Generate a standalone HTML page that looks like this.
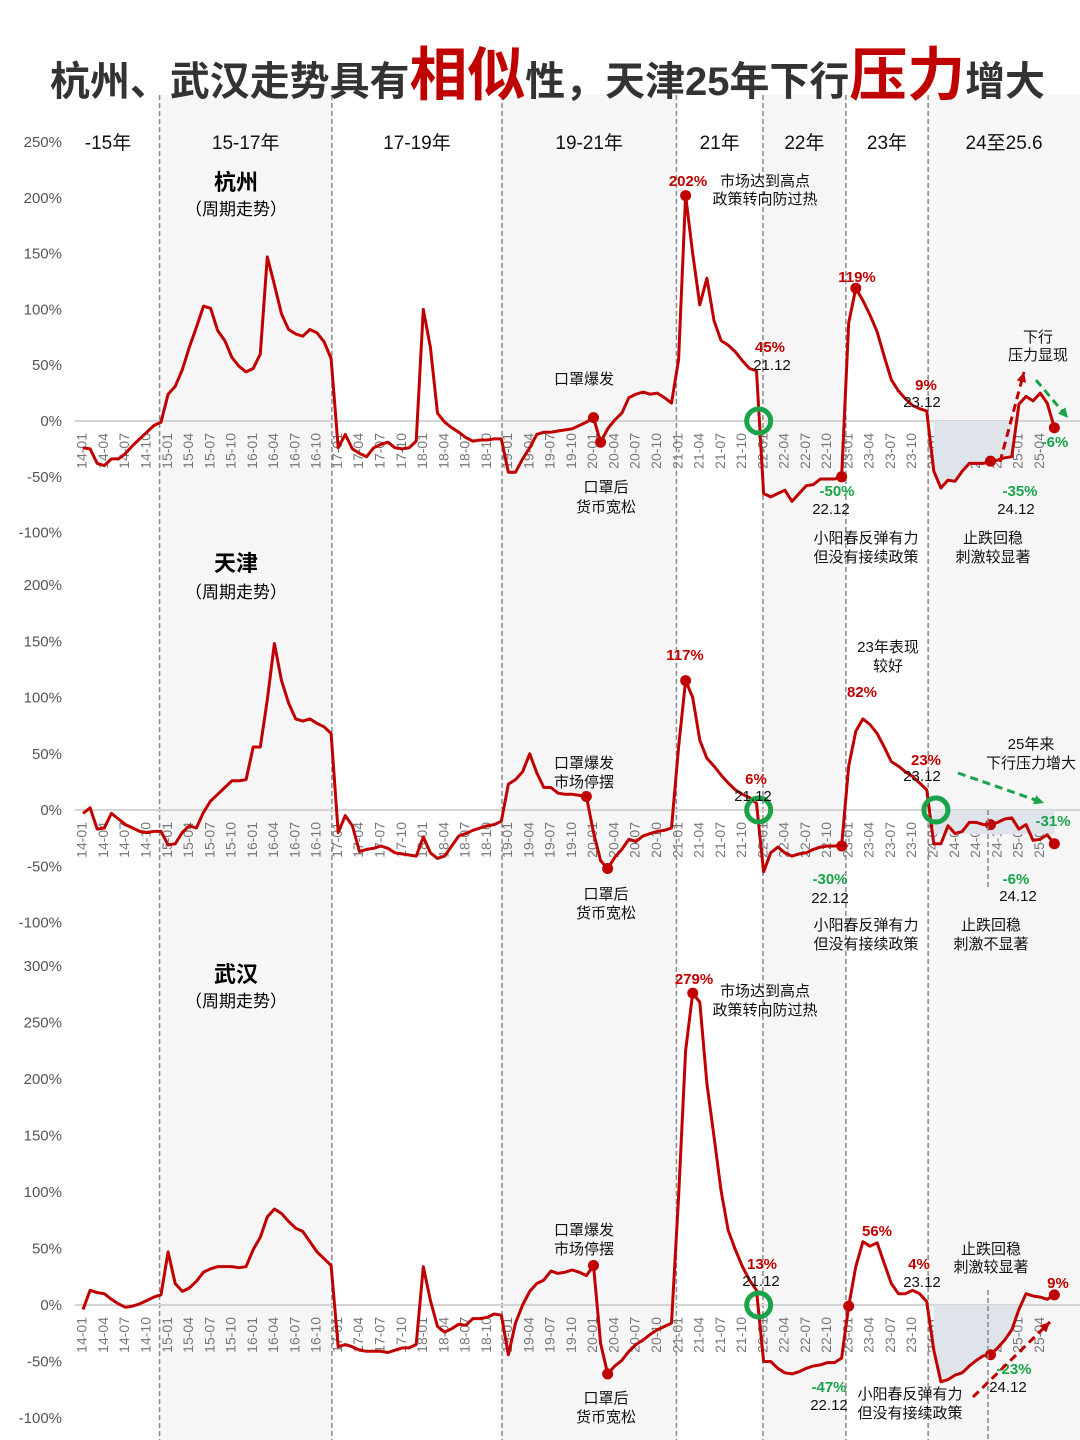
<!DOCTYPE html>
<html><head><meta charset="utf-8">
<style>
html,body{margin:0;padding:0;background:#fff;}
svg{display:block;font-family:"Liberation Sans","Noto Sans CJK SC",sans-serif;}
</style></head>
<body>
<svg id="chart" width="1080" height="1440" viewBox="0 0 1080 1440" xmlns="http://www.w3.org/2000/svg">
<g id="bands"></g>
<text x="50" y="95" font-size="40" font-weight="bold" fill="#333" textLength="995" lengthAdjust="spacingAndGlyphs">杭州、武汉走势具有<tspan font-size="58" fill="#c00000">相似</tspan>性，天津25年下行<tspan font-size="58" fill="#c00000">压力</tspan>增大</text>
<g id="periods" font-size="19" fill="#111" text-anchor="middle"></g>
<g id="plots"></g>
<g id="notes" font-size="15" text-anchor="middle" fill="#111"></g>
</svg>
<script>
const months = [];
for (let y = 14; y <= 25; y++) for (let mo = 1; mo <= 12; mo++) months.push(String(y) + '-' + String(mo).padStart(2, '0'));
months.length = 138;

const hzValues = [-24,-25,-38,-40,-34,-34,-29,-22,-16,-10,-4,-1,24,31,46,66,84,103,101,81,72,57,49,44,47,60,147,122,96,82,78,76,82,79,71,56,
-24,-12,-25,-29,-32,-24,-21,-19,-24,-25,-24,-18,100,66,7,-1,-6,-10,-15,-18,-17,-17,-16,-16,-46,-46,-34,-24,-12,-10,-10,-9,-8,-7,-4,-1,
3,-19,-7,1,7,21,24,26,24,25,21,16,55,202,150,104,128,90,72,68,62,54,47,45,-65,-68,-65,-62,-72,-65,-58,-57,-52,-52,-52,-50,
88,119,108,95,80,58,37,27,20,14,11,9,-45,-60,-53,-54,-45,-38,-38,-38,-36,-35,-33,-32,15,22,18,25,16,-6];

const tjValues = [-3,2,-17,-16,-3,-8,-13,-16,-19,-20,-19,-19,-31,-30,-20,-14,-16,-2,8,14,20,26,26,27,56,56,98,148,115,95,81,79,81,77,74,68,
-20,-5,-14,-37,-35,-34,-32,-34,-38,-39,-40,-41,-24,-38,-43,-41,-32,-23,-21,-18,-16,-14,-13,-10,23,27,34,50,33,20,20,15,14,14,13,12,
-20,-45,-52,-42,-35,-26,-28,-23,-21,-19,-18,-16,56,115,100,62,46,39,31,24,18,14,11,6,-55,-38,-33,-38,-41,-39,-38,-35,-33,-32,-32,-32,
39,70,81,76,68,56,43,39,34,30,24,18,-30,-30,-14,-21,-19,-11,-11,-13,-13,-11,-8,-7,-17,-13,-27,-26,-22,-30];

const whValues = [-4,13,11,10,5,1,-2,-1,1,4,7,9,47,19,12,15,21,29,32,34,34,34,33,34,49,60,78,85,81,74,68,65,56,47,41,35,
-37,-35,-37,-40,-41,-41,-41,-42,-40,-38,-38,-35,34,4,-19,-24,-21,-17,-18,-12,-12,-11,-8,-9,-44,-16,0,12,19,22,30,28,29,31,29,26,
35,-34,-61,-54,-49,-41,-35,-31,-26,-22,-19,-16,96,225,276,268,196,149,101,66,49,34,22,13,-50,-50,-56,-60,-61,-59,-56,-54,-53,-51,-51,-47,
-1,34,56,52,55,37,19,10,10,13,10,3,-40,-68,-66,-62,-60,-54,-49,-45,-44,-38,-31,-22,-4,10,8,7,5,9];

const hzTicks = [250,200,150,100,50,0,-50,-100];
const tjTicks = [200,150,100,50,0,-50,-100];
const whTicks = [300,250,200,150,100,50,0,-50,-100];
const hzDots = [72,73,85,109,107,128,137];
const tjDots = [71,74,85,107,128,137];
const whDots = [72,74,86,108,128,137];
const periodNames = ['-15年','15-17年','17-19年','19-21年','21年','22年','23年','24至25.6'];
const dividerMonths = [10.8,35.1,59.1,83.7,95.9,107.6,119.2];

const NS = 'http://www.w3.org/2000/svg';
function xScale(m){ return 83 + m * 7.09; }
function mk(tag, attrs, parent, text){
  const e = document.createElementNS(NS, tag);
  for (const k in attrs) e.setAttribute(k, attrs[k]);
  if (text !== undefined) e.textContent = text;
  parent.appendChild(e);
  return e;
}

// bands & dividers
const bands = document.getElementById('bands');
const bandEdges = [0].concat(dividerMonths.map(xScale)).concat([1080]);
[1,3,5,7].forEach(i => {
  const r = mk('rect', {x: bandEdges[i], y: 95, width: bandEdges[i+1]-bandEdges[i], height: 1345, fill: '#f6f6f6'}, bands);
  
  
});
dividerMonths.forEach(m => {
  const l = mk('line', {x1: xScale(m), x2: xScale(m), y1: 95, y2: 1440, stroke: '#888', 'stroke-width': 1.5, 'stroke-dasharray': '5,3'}, bands);
  
  
});
const periods = document.getElementById('periods');
periodNames.forEach((p, i) => {
  const cx = i === 0 ? 108 : (bandEdges[i] + bandEdges[i+1]) / 2;
  const t = mk('text', {x: cx, y: 149}, periods, p);
  
  
});

const plots = document.getElementById('plots');
function panel(name, vals, ticks, zero, k, dots){
  const y = v => zero - v * k;
  const g = mk('g', {}, plots);
  
  
  ticks.forEach(t => {
    const tx = mk('text', {x: 62, y: y(t) + 5, 'font-size': 15, fill: '#555', 'text-anchor': 'end'}, g, t + '%');
    
    
  });
  const zl = mk('line', {x1: 75, x2: 1080, y1: zero, y2: zero, stroke: '#d4d4d4', 'stroke-width': 2}, g);
  
  
  for (let m = 0; m < months.length; m += 3) {
    const xx = xScale(m), yy = zero + 12;
    const tl = mk('text', {x: xx, y: yy, 'font-size': 14, fill: '#777', 'text-anchor': 'end', 'dominant-baseline': 'middle', transform: 'rotate(-90 ' + xx + ' ' + yy + ')'}, g, months[m]);
    
    
  }
  return {g, y};
}
function areaPath(vals, y, a, b){
  let d = 'M' + xScale(a) + ',' + y(0);
  for (let m = a; m <= b; m++) d += ' L' + xScale(m) + ',' + y(vals[m]);
  d += ' L' + xScale(b) + ',' + y(0) + ' Z';
  return d;
}
function line(g, vals, y, name){
  let d = '';
  vals.forEach((v, m) => { d += (m ? ' L' : 'M') + xScale(m).toFixed(1) + ',' + y(v).toFixed(1); });
  const p = mk('path', {d, fill: 'none', stroke: '#c00000', 'stroke-width': 3, 'stroke-linejoin': 'round'}, g);
  
  
}
function dotsOf(g, vals, y, idx){
  idx.forEach(m => {
    const c = mk('circle', {cx: xScale(m), cy: y(vals[m]), r: 5.5, fill: '#c00000'}, g);
    
    
  });
}
function ring(g, m, y){
  const c = mk('circle', {cx: xScale(m), cy: y(0), r: 12, fill: 'none', stroke: '#1aa34a', 'stroke-width': 5}, g);
  
  
}

const hz = panel('hangzhou', hzValues, hzTicks, 421, 1.116, hzDots);
const a1 = mk('path', {d: areaPath(hzValues, hz.y, 120, 131), fill: '#dfe3ea'}, hz.g);


line(hz.g, hzValues, hz.y, 'hangzhou');
dotsOf(hz.g, hzValues, hz.y, hzDots);
ring(hz.g, 95.3, hz.y);

const tj = panel('tianjin', tjValues, tjTicks, 810, 1.125, tjDots);
const a2 = mk('path', {d: areaPath(tjValues, tj.y, 107.5, 120), fill: '#f9dede'}, tj.g);


const a3 = mk('rect', {x: xScale(120), y: 810, width: xScale(137) - xScale(120), height: 24, fill: '#dfe3ea'}, tj.g);


line(tj.g, tjValues, tj.y, 'tianjin');
dotsOf(tj.g, tjValues, tj.y, tjDots);
ring(tj.g, 95.3, tj.y);
ring(tj.g, 120.3, tj.y);

const wh = panel('wuhan', whValues, whTicks, 1305, 1.13, whDots);
const a4 = mk('path', {d: areaPath(whValues, wh.y, 120, 132), fill: '#dfe3ea'}, wh.g);


line(wh.g, whValues, wh.y, 'wuhan');
dotsOf(wh.g, whValues, wh.y, whDots);
ring(wh.g, 95.3, wh.y);

// small dashed markers at 24.12
[[810, 890], [1290, 1440]].forEach(r => {
  const l = mk('line', {x1: 988, x2: 988, y1: r[0], y2: r[1], stroke: '#888', 'stroke-width': 1.5, 'stroke-dasharray': '5,3'}, plots);
  
  
});

// notes: [text, x, y, color, bold, size]
const notes = [
 ['杭州',236,190,'#000',1,22],['（周期走势）',236,215,'#000',0,17],
 ['202%',688,186,'#c00000',1,15],['市场达到高点',765,186,'#111',0,15],['政策转向防过热',765,204,'#111',0,15],
 ['45%',770,352,'#c00000',1,15],['21.12',772,370,'#111',0,15],
 ['口罩爆发',584,384,'#111',0,15],['口罩后',606,492,'#111',0,15],['货币宽松',606,512,'#111',0,15],
 ['119%',857,282,'#c00000',1,15],['-50%',837,496,'#1aa34a',1,15],['22.12',831,514,'#111',0,15],
 ['9%',926,390,'#c00000',1,15],['23.12',922,407,'#111',0,15],
 ['小阳春反弹有力',866,543,'#111',0,15],['但没有接续政策',866,562,'#111',0,15],
 ['止跌回稳',993,543,'#111',0,15],['刺激较显著',993,562,'#111',0,15],
 ['-35%',1020,496,'#1aa34a',1,15],['24.12',1016,514,'#111',0,15],
 ['下行',1038,342,'#111',0,15],['压力显现',1038,360,'#111',0,15],['-6%',1055,447,'#1aa34a',1,15],
 ['天津',236,571,'#000',1,22],['（周期走势）',236,598,'#000',0,17],
 ['117%',685,660,'#c00000',1,15],['口罩爆发',584,768,'#111',0,15],['市场停摆',584,787,'#111',0,15],
 ['口罩后',606,899,'#111',0,15],['货币宽松',606,918,'#111',0,15],
 ['6%',756,784,'#c00000',1,15],['21.12',753,801,'#111',0,15],
 ['23年表现',888,652,'#111',0,15],['较好',888,671,'#111',0,15],['82%',862,697,'#c00000',1,15],
 ['23%',926,765,'#c00000',1,15],['23.12',922,781,'#111',0,15],
 ['25年来',1031,749,'#111',0,15],['下行压力增大',1031,768,'#111',0,15],['-31%',1053,826,'#1aa34a',1,15],
 ['-30%',830,884,'#1aa34a',1,15],['22.12',830,903,'#111',0,15],['-6%',1016,884,'#1aa34a',1,15],['24.12',1018,901,'#111',0,15],
 ['小阳春反弹有力',866,930,'#111',0,15],['但没有接续政策',866,949,'#111',0,15],
 ['止跌回稳',991,930,'#111',0,15],['刺激不显著',991,949,'#111',0,15],
 ['武汉',236,982,'#000',1,22],['（周期走势）',236,1007,'#000',0,17],
 ['279%',694,984,'#c00000',1,15],['市场达到高点',765,996,'#111',0,15],['政策转向防过热',765,1015,'#111',0,15],
 ['口罩爆发',584,1235,'#111',0,15],['市场停摆',584,1254,'#111',0,15],['口罩后',606,1403,'#111',0,15],['货币宽松',606,1422,'#111',0,15],
 ['13%',762,1269,'#c00000',1,15],['21.12',761,1286,'#111',0,15],['56%',877,1236,'#c00000',1,15],
 ['-47%',829,1392,'#1aa34a',1,15],['22.12',829,1410,'#111',0,15],
 ['小阳春反弹有力',910,1399,'#111',0,15],['但没有接续政策',910,1418,'#111',0,15],
 ['4%',919,1269,'#c00000',1,15],['23.12',922,1287,'#111',0,15],
 ['止跌回稳',991,1254,'#111',0,15],['刺激较显著',991,1272,'#111',0,15],
 ['-23%',1014,1374,'#1aa34a',1,15],['24.12',1008,1392,'#111',0,15],['9%',1058,1288,'#c00000',1,15]
];
const ng = document.getElementById('notes');
notes.forEach(n => {
  const t = mk('text', {x: n[1], y: n[2], fill: n[3], 'font-size': n[5], 'font-weight': n[4] ? 'bold' : 'normal'}, ng, n[0]);
  
  
});
// arrows
function arrow(x1, y1, x2, y2, col, name){
  const l = mk('line', {x1, y1, x2, y2, stroke: col, 'stroke-width': 3, 'stroke-dasharray': '8,5'}, ng);
  
  
  const ang = Math.atan2(y2 - y1, x2 - x1), s = 11;
  const p1 = [x2 - s*Math.cos(ang - 0.45), y2 - s*Math.sin(ang - 0.45)];
  const p2 = [x2 - s*Math.cos(ang + 0.45), y2 - s*Math.sin(ang + 0.45)];
  const h = mk('polygon', {points: x2 + ',' + y2 + ' ' + p1.join(',') + ' ' + p2.join(','), fill: col}, ng);
  
  
}
arrow(1000, 462, 1024, 372, '#c00000', 'up-arrow');
arrow(1036, 380, 1068, 418, '#1aa34a', 'down-arrow');
arrow(958, 773, 1044, 803, '#1aa34a', 'down-arrow');
arrow(973, 1397, 1050, 1322, '#c00000', 'up-arrow');
</script>
</body></html>
